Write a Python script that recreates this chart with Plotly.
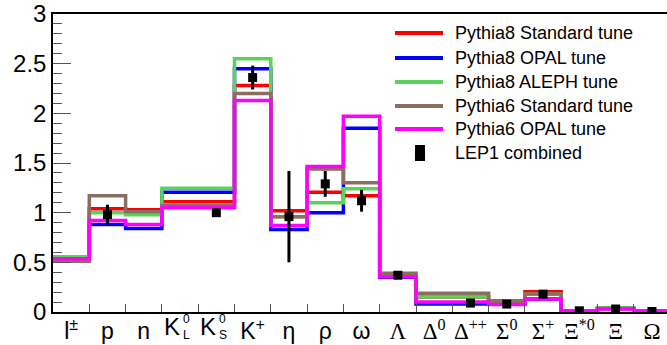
import plotly.graph_objects as go

# Particle species (one histogram bin each)
species = ["l±", "p", "n", "K0L", "K0S", "K+", "η", "ρ", "ω", "Λ",
           "Δ0", "Δ++", "Σ0", "Σ+", "Ξ*0", "Ξ", "Ω"]

SERIF = "<span style=\"font-family:'Liberation Serif'\">{}</span>"
tick_labels = [
    "l<sup>±</sup>", "p", "n",
    "", "", "K<sup>+</sup>",
    "η", "ρ", "ω",
    SERIF.format("Λ"),
    SERIF.format("Δ<sup>0</sup>"),
    SERIF.format("Δ<sup>++</sup>"),
    SERIF.format("Σ<sup>0</sup>"),
    SERIF.format("Σ<sup>+</sup>"),
    SERIF.format("Ξ<sup>*0</sup>"),
    SERIF.format("Ξ"),
    SERIF.format("Ω"),
]
# Neutral kaon labels: "K" with the 0 / L,S indices stacked on its right
kaon_labels = {3: ("K", "0", "L"), 4: ("K", "0", "S")}

y_tick_vals = [0, 0.5, 1, 1.5, 2, 2.5, 3]
y_tick_text = ["0", "0.5", "1", "1.5", "2", "2.5", "3"]

# Generator predictions per species
py8_standard = [0.53, 1.04, 1.03, 1.11, 1.11, 2.28, 1.02, 1.205, 1.17, 0.37,
                0.15, 0.15, 0.11, 0.205, 0.01, 0.035, 0.01]
py8_opal = [0.53, 0.88, 0.84, 1.205, 1.205, 2.45, 0.83, 1.00, 1.85, 0.35,
            0.08, 0.08, 0.08, 0.13, 0.01, 0.035, 0.005]
py8_aleph = [0.555, 1.00, 0.98, 1.245, 1.245, 2.55, 0.96, 1.10, 1.24, 0.37,
             0.15, 0.15, 0.10, 0.18, 0.01, 0.04, 0.005]
py6_standard = [0.51, 1.17, 1.01, 1.07, 1.07, 2.20, 0.96, 1.44, 1.30, 0.39,
                0.19, 0.19, 0.10, 0.18, 0.01, 0.035, 0.005]
py6_opal = [0.535, 0.92, 0.88, 1.05, 1.05, 2.13, 0.87, 1.465, 1.97, 0.355,
            0.10, 0.10, 0.075, 0.13, 0.01, 0.03, 0.005]

# Measured values and uncertainties (None where not measured)
lep1 = [None, 0.98, None, None, 1.00, 2.36, 0.96, 1.29, 1.12, 0.37,
        None, 0.09, 0.08, 0.18, 0.012, 0.03, 0.005]
lep1_err = [None, 0.10, None, None, 0.02, 0.12, 0.46, 0.13, 0.11, 0.01,
            None, 0.01, 0.01, 0.01, 0.005, 0.005, 0.003]

series = [
    ("Pythia8 Standard tune", py8_standard, "#ff0000"),
    ("Pythia8 OPAL tune", py8_opal, "#0000ff"),
    ("Pythia8 ALEPH tune", py8_aleph, "#5bd35b"),
    ("Pythia6 Standard tune", py6_standard, "#8c6e60"),
    ("Pythia6 OPAL tune", py6_opal, "#ff00ff"),
]

n = len(species)
edges = list(range(n + 1))
centers = [i + 0.5 for i in range(n)]

W, H = 667, 345
ML, MR, MT, MB = 53, 0, 14, 33
plot_w = W - ML - MR
plot_h = H - MT - MB
bin_px = 36.3

fig = go.Figure()

for name, vals, color in series:
    fig.add_trace(go.Scatter(
        x=edges, y=vals + [vals[-1]], mode="lines", line_shape="hv",
        line=dict(color=color, width=3.5), name=name, showlegend=False,
        hoverinfo="skip",
    ))

fig.add_trace(go.Scatter(
    x=centers, y=lep1, mode="markers", name="LEP1 combined",
    marker=dict(symbol="square", size=9, color="black"),
    error_y=dict(type="data", array=lep1_err, width=0, thickness=3,
                 color="black"),
    showlegend=False,
))


# Legend box drawn in pixel-based paper coordinates
def px_x(px):
    return (px - ML) / plot_w


def px_y(py):
    return (H - MB - py) / plot_h


LEGEND_FONT = dict(size=18, color="black", family="Liberation Sans")
shapes = []
annotations = []
legend_rows = [33, 58, 82, 106, 129]
for (name, _, color), ry in zip(series, legend_rows):
    shapes.append(dict(type="line", xref="paper", yref="paper",
                       x0=px_x(395), x1=px_x(443), y0=px_y(ry), y1=px_y(ry),
                       line=dict(color=color, width=4)))
    annotations.append(dict(text=name, xref="paper", yref="paper",
                            x=px_x(453), y=px_y(ry), xanchor="left",
                            yanchor="middle", showarrow=False,
                            font=LEGEND_FONT))
shapes.append(dict(type="rect", xref="paper", yref="paper",
                   x0=px_x(415), x1=px_x(425), y0=px_y(161), y1=px_y(145),
                   fillcolor="black", line=dict(width=0)))
annotations.append(dict(text="LEP1 combined", xref="paper", yref="paper",
                        x=px_x(453), y=px_y(153), xanchor="left",
                        yanchor="middle", showarrow=False,
                        font=LEGEND_FONT))

for idx, (base, sup, sub) in kaon_labels.items():
    annotations.append(dict(text=base, xref="x", yref="paper",
                            x=centers[idx], y=px_y(326), xshift=2,
                            xanchor="right", yanchor="middle",
                            showarrow=False,
                            font=dict(size=24, color="black",
                                      family="Liberation Sans")))
    annotations.append(dict(text=sup + "<br>" + sub, xref="x", yref="paper",
                            x=centers[idx], y=px_y(327), xshift=2,
                            xanchor="left", yanchor="middle", align="left",
                            showarrow=False, borderpad=0,
                            font=dict(size=12, color="black",
                                      family="Liberation Sans")))

fig.update_layout(
    width=W, height=H,
    margin=dict(l=ML, r=MR, t=MT, b=MB, pad=0),
    paper_bgcolor="white", plot_bgcolor="white",
    font=dict(family="Liberation Sans", color="black"),
    shapes=shapes, annotations=annotations,
    showlegend=False,
)

fig.update_xaxes(
    range=[0, plot_w / bin_px],
    tickvals=centers, ticktext=tick_labels, tickangle=0,
    ticks="", ticklen=0, ticklabelstandoff=-2,
    tickfont=dict(size=23, family="Liberation Sans", color="black"),
    showgrid=False, zeroline=False,
    showline=True, linecolor="black", linewidth=1.5, mirror=True,
    minor=dict(tickvals=edges[1:], ticks="inside", ticklen=8,
               tickcolor="#555555", tickwidth=1.2, showgrid=False),
)

fig.update_yaxes(
    range=[0, 3], tickvals=y_tick_vals, ticktext=y_tick_text,
    ticks="inside", ticklen=18, tickcolor="#555555", tickwidth=1.2,
    tickfont=dict(size=24, family="Liberation Sans", color="black"),
    showgrid=False, zeroline=False,
    showline=True, linecolor="black", linewidth=1.5,
    minor=dict(tickvals=[i / 10 for i in range(31)], ticks="inside",
               ticklen=9, tickcolor="#555555", tickwidth=1.2,
               showgrid=False),
)

fig.write_html("out.html")
